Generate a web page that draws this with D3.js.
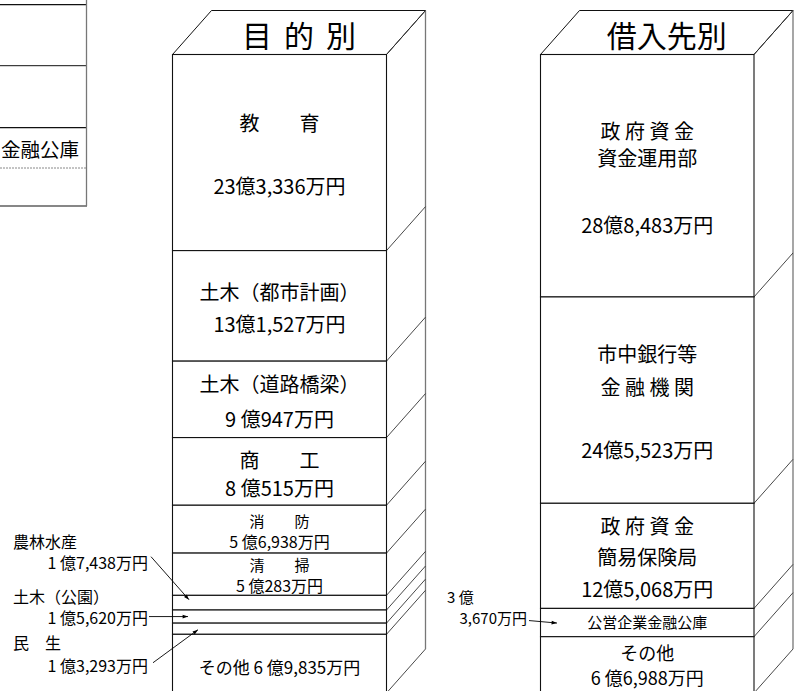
<!DOCTYPE html>
<html><head><meta charset="utf-8">
<script src="https://cdn.jsdelivr.net/npm/d3@7"></script>
<style>
html,body{margin:0;padding:0;background:#fff;}
svg{display:block;font-family:"Noto Sans CJK JP","Noto Sans",sans-serif;}
</style></head>
<body><svg id="c" width="799" height="691"></svg>
<script>
// ---- data (万円) ----
const purposeNames  = ["教　　育","土木（都市計画）","土木（道路橋梁）","商　　工","消　　防","清　　掃","農林水産","土木（公園）","民　生","その他"];
const purposeValues = [233336,131527,90947,80515,56938,50283,17438,15620,13293,69835];
const lenderNames   = [["政 府 資 金","資金運用部"],["市中銀行等","金 融 機 関"],["政 府 資 金","簡易保険局"],["公営企業金融公庫"],["その他"]];
const lenderValues  = [288483,245523,125068,33670,66988];
const titles = ["目的別","借入先別"];
const neighbourLabel = "金融公庫";

function fmt(v){
  const oku = Math.floor(v/10000), man = v%10000;
  return (oku<10? oku+" " : oku) + "億" + d3.format(",")(man) + "万円";
}
function fmtOku(v){ const oku=Math.floor(v/10000); return (oku<10? oku+" ":oku)+"億"; }
function fmtMan(v){ return d3.format(",")(v%10000)+"万円"; }

const svg = d3.select("#c");
const total = d3.sum(purposeValues);
const y = d3.scaleLinear().domain([0,total]).range([54.5,693]);
const DX = 39, DY = -44;

const defs = svg.append("defs");
defs.append("marker").attr("id","ah").attr("viewBox","0 0 10 10").attr("refX",10).attr("refY",5)
  .attr("markerWidth",7).attr("markerHeight",6).attr("orient","auto")
  .append("path").attr("d","M0,1.5L10,5L0,8.5Z").attr("fill","#000");

function stack(values){
  let c=0; return values.map(v=>{const s={y0:c,y1:c+v,v:v}; c+=v; return s;});
}

function drawBox(xL, xR, values, title, titleSpacing){
  const g = svg.append("g");
  const segs = stack(values);
  const top = y(0), bot = y(total);
  g.append("path").attr("d",`M${xL},${top}L${xL+DX},${top+DY}L${xR+DX},${top+DY}L${xR},${top}`)
    .attr("fill","none").attr("stroke","#111").attr("stroke-width",1);
  g.append("line").attr("x1",xR+DX).attr("x2",xR+DX).attr("y1",top+DY).attr("y2",bot+DY)
    .attr("stroke","#777").attr("stroke-width",1.3);
  const bounds = [0].concat(segs.map(s=>s.y1));
  g.selectAll("line.diag").data(bounds).join("line").attr("class","diag")
    .attr("x1",xR).attr("y1",d=>y(d)).attr("x2",xR+DX).attr("y2",d=>y(d)+DY)
    .attr("stroke","#333").attr("stroke-width",0.9);
  g.selectAll("rect.seg").data(segs).join("rect").attr("class","seg")
    .attr("x",xL).attr("width",xR-xL).attr("y",d=>y(d.y0)).attr("height",d=>y(d.y1)-y(d.y0))
    .attr("fill","#fff").attr("stroke","#111").attr("stroke-width",1.1);
  g.append("text").attr("x",(xL+xR)/2+DX/2+(titleSpacing/2)).attr("y",top+DY/2+1)
    .attr("text-anchor","middle").attr("dominant-baseline","central")
    .attr("font-size",30).attr("letter-spacing",titleSpacing).attr("fill","#000").text(title);
  return {g,segs};
}

// ---- neighbouring (cropped) chart at far left ----
const nb = svg.append("g");
[4.7,65.7,127.7,168,206].forEach((yy,i)=>{
  nb.append("line").attr("x1",0).attr("x2",87).attr("y1",yy).attr("y2",yy)
    .attr("stroke", i===3? "#888":"#111").attr("stroke-width",i===1||i===3?1:1.2)
    .attr("stroke-dasharray", i===3? "2,1":null);
});
nb.append("line").attr("x1",86.5).attr("x2",86.5).attr("y1",0).attr("y2",206).attr("stroke","#777").attr("stroke-width",1.3);
nb.append("text").attr("x",79).attr("y",148).attr("text-anchor","end").attr("dominant-baseline","central")
  .attr("font-size",19.5).text(neighbourLabel);

// ---- 目的別 ----
const m = drawBox(172.5, 386.5, purposeValues, titles[0], 12);
const mCx = (172.5+386.5)/2;
const mLayout = [[-30,33,20,20],[-14,18,20,20],[-16,19,20,20],[-12,16,20,20],[-9,12,15,16],[-10,11,15,16],null,null,null,"single"];
m.segs.forEach((s,i)=>{
  const mid = (y(s.y0)+y(s.y1))/2, L = mLayout[i];
  if(L===null) return;
  if(L==="single"){
    m.g.append("text").attr("x",mCx).attr("y",mid+3).attr("text-anchor","middle").attr("dominant-baseline","central")
      .attr("font-size",17).text(purposeNames[i]+" "+fmt(s.v));
    return;
  }
  m.g.append("text").attr("x",mCx).attr("y",mid+L[0]).attr("text-anchor","middle").attr("dominant-baseline","central")
    .attr("font-size",L[2]).text(purposeNames[i]);
  m.g.append("text").attr("x",mCx).attr("y",mid+L[1]).attr("text-anchor","middle").attr("dominant-baseline","central")
    .attr("font-size",L[3]).text(fmt(s.v));
});
const callouts = [
  {i:6, nameY:-62, valY:-41, from:[151,-46], to:[189,-3]},
  {i:7, nameY:-21, valY:0,   from:[149,0],   to:[188,0]},
  {i:8, nameY:13,  valY:36,  from:[153,34],  to:[198,1]}
];
callouts.forEach(c=>{
  const s = m.segs[c.i], mid=(y(s.y0)+y(s.y1))/2;
  m.g.append("text").attr("x",13).attr("y",mid+c.nameY).attr("dominant-baseline","central").attr("font-size",16).text(purposeNames[c.i]);
  m.g.append("text").attr("x",148).attr("y",mid+c.valY).attr("text-anchor","end").attr("dominant-baseline","central").attr("font-size",16).text(fmt(s.v));
  m.g.append("line").attr("x1",c.from[0]).attr("y1",mid+c.from[1]).attr("x2",c.to[0]).attr("y2",mid+c.to[1])
    .attr("stroke","#000").attr("stroke-width",0.9).attr("marker-end","url(#ah)");
});

// ---- 借入先別 ----
const r = drawBox(540.5, 754, lenderValues, titles[1], 0);
const rCx = (540.5+754)/2;
const rLayout = [[[-45,-18],49,20],[[-47,-14],49,20],[[-30,1],33,20],[[-1],null,15],[[-13],12,18]];
r.segs.forEach((s,i)=>{
  const mid=(y(s.y0)+y(s.y1))/2, L=rLayout[i];
  lenderNames[i].forEach((nm,j)=>{
    r.g.append("text").attr("x",rCx).attr("y",mid+L[0][j]).attr("text-anchor","middle").attr("dominant-baseline","central")
      .attr("font-size",L[2]).text(nm);
  });
  if(L[1]!==null){
    r.g.append("text").attr("x",rCx).attr("y",mid+L[1]).attr("text-anchor","middle").attr("dominant-baseline","central")
      .attr("font-size",L[2]).text(fmt(s.v));
  }
});
{
  const s=r.segs[3], mid=(y(s.y0)+y(s.y1))/2;
  r.g.append("text").attr("x",447).attr("y",mid-26).attr("dominant-baseline","central").attr("font-size",15).text(fmtOku(s.v));
  r.g.append("text").attr("x",527).attr("y",mid-5).attr("text-anchor","end").attr("dominant-baseline","central").attr("font-size",15).text(fmtMan(s.v));
  r.g.append("line").attr("x1",529).attr("y1",mid-2).attr("x2",557).attr("y2",mid+0.5)
    .attr("stroke","#000").attr("stroke-width",0.9).attr("marker-end","url(#ah)");
}
</script></body></html>
